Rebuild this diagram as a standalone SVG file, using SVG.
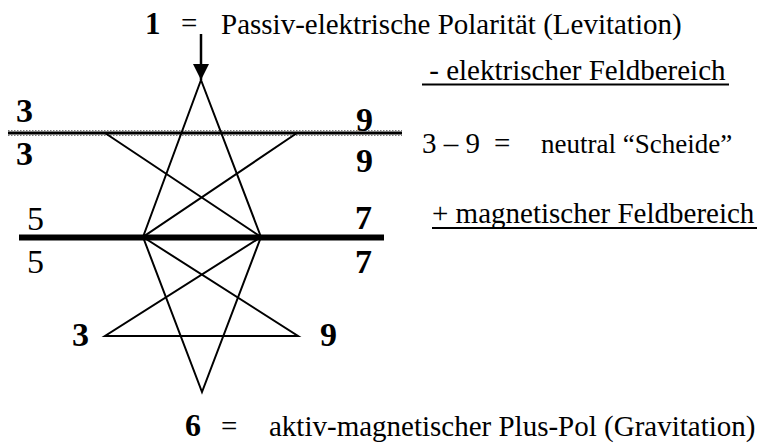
<svg xmlns="http://www.w3.org/2000/svg" width="765" height="444" viewBox="0 0 765 444">
<defs>
<style>
.t{font-family:"Liberation Serif","Times New Roman",serif;font-size:29px;fill:#000}
.b{font-family:"Liberation Serif","Times New Roman",serif;font-size:34px;font-weight:bold;fill:#000}
.n{font-family:"Liberation Serif","Times New Roman",serif;font-size:34px;fill:#000}
.s{stroke:#000;stroke-width:2;fill:none;stroke-linejoin:miter}
.u{stroke:#000;stroke-width:2}
</style>
<marker id="ah" viewBox="0 0 10 10" refX="10" refY="5" markerWidth="6.5" markerHeight="6.5" orient="auto" markerUnits="strokeWidth">
<path d="M0,0 L10,5 L0,10 Z" fill="#000"/>
</marker>
</defs>
<rect width="765" height="444" fill="#fff"/>
<g id="connectors">
<line x1="201" y1="34" x2="201" y2="80" stroke="#000" stroke-width="2.5" marker-end="url(#ah)"/>
<line x1="8" y1="133" x2="402" y2="133" stroke="#000" stroke-width="3"/>
<line x1="8" y1="130.5" x2="402" y2="130.5" stroke="#777" stroke-width="1" stroke-dasharray="1.5 1.5"/>
<line x1="8" y1="135.5" x2="402" y2="135.5" stroke="#777" stroke-width="1" stroke-dasharray="1.5 1.5"/>
<line x1="19" y1="237.5" x2="384" y2="237.5" stroke="#000" stroke-width="6"/>
<polyline class="s" points="143,237 201,80 261,237"/>
<polyline class="s" points="105,133 261,237 202,392 143,237 297,133"/>
<polyline class="s" points="143,237 298,336 105,336 261,237"/>
</g>
<g id="pole1">
<text class="b" x="145" y="34" style="font-size:31px">1</text>
<text class="t" x="181" y="33">=</text>
<text class="t" x="221" y="34">Passiv-elektrische Polarität (Levitation)</text>
</g>
<g id="elektrisch">
<text class="t" x="422" y="80" xml:space="preserve"> - elektrischer Feldbereich</text>
<line class="u" x1="422" y1="84.5" x2="729" y2="84.5"/>
</g>
<g id="neutral">
<text class="t" x="422" y="153">3 – 9</text>
<text class="t" x="494" y="153">=</text>
<text class="t" x="541" y="153" style="font-size:27px">neutral “Scheide”</text>
</g>
<g id="magnetisch">
<text class="t" x="432" y="223">+ magnetischer Feldbereich</text>
<line class="u" x1="432" y1="228" x2="757" y2="228"/>
</g>
<g id="pole6">
<text class="b" x="185" y="436" style="font-size:32px">6</text>
<text class="t" x="221" y="436">=</text>
<text class="t" x="269" y="436">aktiv-magnetischer Plus-Pol (Gravitation)</text>
</g>
<g id="labels">
<text class="b" x="16" y="122">3</text>
<text class="b" x="16" y="165">3</text>
<text class="b" x="356" y="131">9</text>
<text class="b" x="356" y="172">9</text>
<text class="n" x="27" y="230">5</text>
<text class="n" x="27" y="273">5</text>
<text class="b" x="355" y="229">7</text>
<text class="b" x="355" y="273">7</text>
<text class="b" x="72" y="346">3</text>
<text class="b" x="320" y="346">9</text>
</g>
</svg>
